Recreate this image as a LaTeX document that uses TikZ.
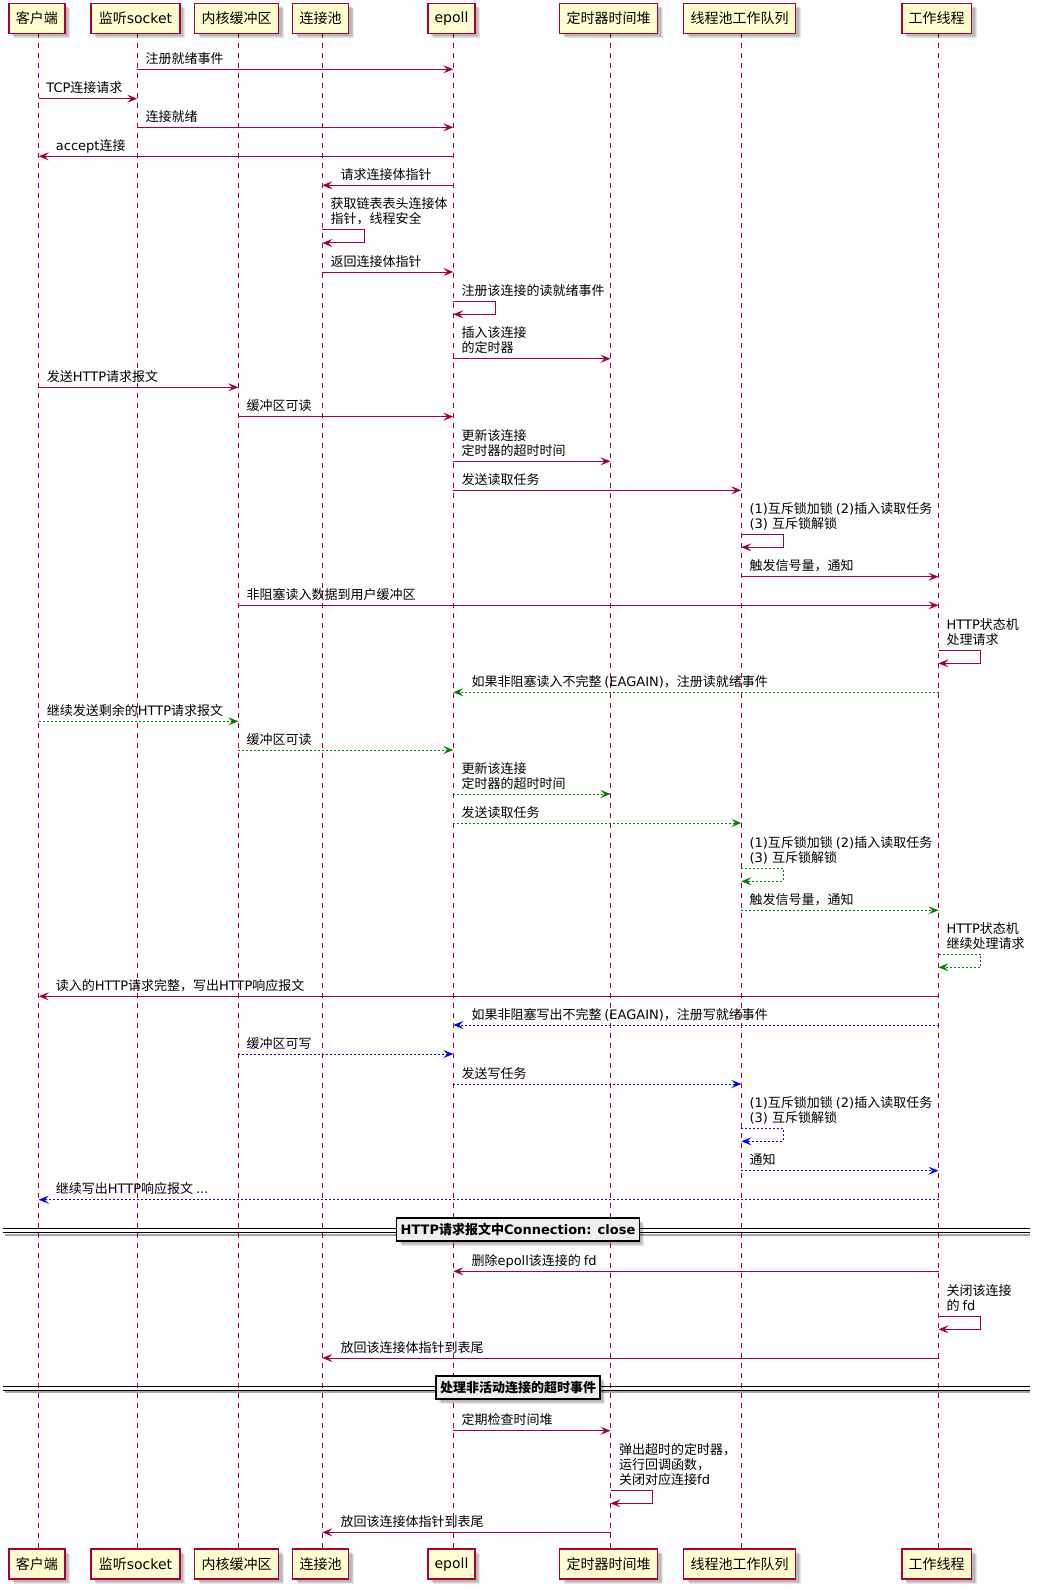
\documentclass[tikz,border=0pt]{standalone}
\usepackage{fontspec}
\setmainfont{DejaVu Sans}
\newfontfamily\cjkfont{Noto Sans CJK SC}
\usetikzlibrary{arrows.meta}

% switch automatically between the Latin and the CJK family
\XeTeXinterchartokenstate=1
\newXeTeXintercharclass\CJKclass
\makeatletter
\count@="3000
\loop \XeTeXcharclass\count@=\CJKclass \ifnum\count@<"303F \advance\count@ by 1 \repeat
\count@="4E00
\loop \XeTeXcharclass\count@=\CJKclass \ifnum\count@<"9FFF \advance\count@ by 1 \repeat
\count@="FF00
\loop \XeTeXcharclass\count@=\CJKclass \ifnum\count@<"FFEF \advance\count@ by 1 \repeat
\makeatother
\XeTeXinterchartoks 0 \CJKclass = {\cjkfont}
\XeTeXinterchartoks 4095 \CJKclass = {\cjkfont}
\XeTeXinterchartoks \CJKclass 0 = {\rmfamily}
\XeTeXinterchartoks 4095 0 = {\rmfamily}

\definecolor{umlred}{HTML}{A80036}
\definecolor{umlfill}{HTML}{FEFECE}
\definecolor{umlgreen}{HTML}{008000}
\definecolor{umlblue}{HTML}{0000FF}
\definecolor{sepfill}{HTML}{EEEEEE}

\newcommand\msgfont{\fontsize{13}{15}\selectfont}
\newcommand\partfont{\fontsize{14}{16}\selectfont}
\newcommand\twol[2]{\vbox{\baselineskip=15pt\lineskiplimit=-50pt\hbox{#1}\hbox{#2}}}
\newcommand\threel[3]{\vbox{\baselineskip=15pt\lineskiplimit=-50pt\hbox{#1}\hbox{#2}\hbox{#3}}}

\tikzset{
  softshadow/.style={
    preaction={fill=black, fill opacity=0.10, transform canvas={xshift=5pt,yshift=-5pt}},
    preaction={fill=black, fill opacity=0.10, transform canvas={xshift=4pt,yshift=-4pt}},
    preaction={fill=black, fill opacity=0.10, transform canvas={xshift=3pt,yshift=-3pt}}},
  part/.style={softshadow, draw=umlred, fill=umlfill, line width=1.5pt, inner sep=0pt,
    minimum height=30pt, font=\partfont, text=black},
  lifeline/.style={draw=umlred, line width=1pt, dash pattern=on 5pt off 5pt},
  msg/.style={draw=umlred, line width=1pt, -{Stealth[length=10pt,width=8pt,inset=4pt]}},
  gmsg/.style={msg, draw=umlgreen, dash pattern=on 2pt off 2pt},
  bmsg/.style={msg, draw=umlblue, dash pattern=on 2pt off 2pt},
  lbl/.style={anchor=base west, inner sep=0pt, font=\msgfont, text=black},
  sepline/.style={draw=black, line width=1pt},
  sepshade/.style={draw=black!35, line width=2pt},
  sepbox/.style={softshadow, draw=black, fill=sepfill, line width=1.5pt, inner xsep=4pt,
    inner ysep=0pt, minimum height=23pt, font=\bfseries\msgfont},
}

\begin{document}
\begin{tikzpicture}[x=1pt,y=-1pt]
\useasboundingbox (0,0) rectangle (1041,1589);

% double separator lines (boxes are placed on them further down)
\draw[sepshade] (5,1234.6) -- (1030,1234.6);
\draw[sepline] (3,1228.3) -- (1030,1228.3);
\draw[sepline] (3,1232.3) -- (1030,1232.3);
\draw[sepshade] (5,1392.3) -- (1030,1392.3);
\draw[sepline] (3,1386) -- (1030,1386);
\draw[sepline] (3,1390) -- (1030,1390);

% lifeline heads
\coordinate (lA) at (38.7,33.3);
\coordinate (lB) at (137.3,33.3);
\coordinate (lC) at (238.3,33.3);
\coordinate (lD) at (322.3,33.3);
\coordinate (lE) at (453.3,33.3);
\coordinate (lF) at (610.5,33.3);
\coordinate (lG) at (741.3,33.3);
\coordinate (lH) at (938.5,33.3);

\foreach \n in {A,B,C,D,E,F,G,H}
  \draw[lifeline] (l\n) -- (l\n |- 0,1549.3);

% participants, top and bottom
\foreach \n/\x/\w/\t in {A/36.9/56/客户端, B/135.5/88.6/监听socket, C/236.5/84/内核缓冲区,
    D/320.5/56/连接池, E/451.5/47.4/epoll, F/608.7/98/定时器时间堆,
    G/739.5/112/线程池工作队列, H/936.7/69.6/工作线程}{
  \node[part, minimum width=\w pt] (top\n) at (\x,18.3) {\t};
  \node[part, minimum width=\w pt] (bot\n) at (\x,1564.2) {\t};
}

% connection set-up
\draw[msg] (lB |- 0,69.3) -- (lE |- 0,69.3);
\node[lbl] (t1) at (145.3,63.3) {注册就绪事件};
\draw[msg] (lA |- 0,98.7) -- (lB |- 0,98.7);
\node[lbl] (t2) at (46.2,92.7) {TCP连接请求};
\draw[msg] (lB |- 0,127.3) -- (lE |- 0,127.3);
\node[lbl] (t3) at (145.3,121.3) {连接就绪};
\draw[msg] (lE |- 0,156.3) -- (lA |- 0,156.3);
\node[lbl] (t4) at (55.7,150.3) {accept连接};
\draw[msg] (lE |- 0,185.3) -- (lD |- 0,185.3);
\node[lbl] (t5) at (340.3,179.3) {请求连接体指针};
\draw[msg] (lD |- 0,230) -- ++(42,0) -- ++(0,13) -- (lD |- 0,243);
\node[lbl] (t6) at (330.3,224) {\twol{获取链表表头连接体}{指针，线程安全}};
\draw[msg] (lD |- 0,272) -- (lE |- 0,272);
\node[lbl] (t7) at (330.3,266) {返回连接体指针};
\draw[msg] (lE |- 0,301.3) -- ++(42,0) -- ++(0,13) -- (lE |- 0,314.3);
\node[lbl] (t8) at (461.3,295.3) {注册该连接的读就绪事件};
\draw[msg] (lE |- 0,358.7) -- (lF |- 0,358.7);
\node[lbl] (t9) at (461.3,352.7) {\twol{插入该连接}{的定时器}};

% request, first read
\draw[msg] (lA |- 0,387.3) -- (lC |- 0,387.3);
\node[lbl] (t10) at (46.7,381.3) {发送HTTP请求报文};
\draw[msg] (lC |- 0,416.7) -- (lE |- 0,416.7);
\node[lbl] (t11) at (246.3,410.7) {缓冲区可读};
\draw[msg] (lE |- 0,461.3) -- (lF |- 0,461.3);
\node[lbl] (t12) at (461.3,455.3) {\twol{更新该连接}{定时器的超时时间}};
\draw[msg] (lE |- 0,490.3) -- (lG |- 0,490.3);
\node[lbl] (t13) at (461.3,484.3) {发送读取任务};
\draw[msg] (lG |- 0,534.3) -- ++(42,0) -- ++(0,13) -- (lG |- 0,547.3);
\node[lbl] (t14) at (749.3,528.3) {\twol{(1)互斥锁加锁 (2)插入读取任务}{(3) 互斥锁解锁}};
\draw[msg] (lG |- 0,576.7) -- (lH |- 0,576.7);
\node[lbl] (t15) at (749.3,570.7) {触发信号量，通知};
\draw[msg] (lC |- 0,605.3) -- (lH |- 0,605.3);
\node[lbl] (t16) at (246.3,599.3) {非阻塞读入数据到用户缓冲区};
\draw[msg] (lH |- 0,650.3) -- ++(42,0) -- ++(0,13) -- (lH |- 0,663.3);
\node[lbl] (t17) at (946.5,644.3) {\twol{HTTP状态机}{处理请求}};

% incomplete read
\draw[gmsg] (lH |- 0,692.3) -- (lE |- 0,692.3);
\node[lbl] (t18) at (471.3,686.3) {如果非阻塞读入不完整 (EAGAIN)，注册读就绪事件};
\draw[gmsg] (lA |- 0,721.3) -- (lC |- 0,721.3);
\node[lbl] (t19) at (46.7,715.3) {继续发送剩余的HTTP请求报文};
\draw[gmsg] (lC |- 0,750) -- (lE |- 0,750);
\node[lbl] (t20) at (246.3,744) {缓冲区可读};
\draw[gmsg] (lE |- 0,794) -- (lF |- 0,794);
\node[lbl] (t21) at (461.3,788) {\twol{更新该连接}{定时器的超时时间}};
\draw[gmsg] (lE |- 0,823) -- (lG |- 0,823);
\node[lbl] (t22) at (461.3,817) {发送读取任务};
\draw[gmsg] (lG |- 0,868.3) -- ++(42,0) -- ++(0,13) -- (lG |- 0,881.3);
\node[lbl] (t23) at (749.3,862.3) {\twol{(1)互斥锁加锁 (2)插入读取任务}{(3) 互斥锁解锁}};
\draw[gmsg] (lG |- 0,910.3) -- (lH |- 0,910.3);
\node[lbl] (t24) at (749.3,904.3) {触发信号量，通知};
\draw[gmsg] (lH |- 0,954.3) -- ++(42,0) -- ++(0,13) -- (lH |- 0,967.3);
\node[lbl] (t25) at (946.5,948.3) {\twol{HTTP状态机}{继续处理请求}};

% response
\draw[msg] (lH |- 0,996.3) -- (lA |- 0,996.3);
\node[lbl] (t26) at (55.7,990.3) {读入的HTTP请求完整，写出HTTP响应报文};
\draw[bmsg] (lH |- 0,1025) -- (lE |- 0,1025);
\node[lbl] (t27) at (471.3,1019) {如果非阻塞写出不完整 (EAGAIN)，注册写就绪事件};
\draw[bmsg] (lC |- 0,1054) -- (lE |- 0,1054);
\node[lbl] (t28) at (246.3,1048) {缓冲区可写};
\draw[bmsg] (lE |- 0,1084) -- (lG |- 0,1084);
\node[lbl] (t29) at (461.3,1078) {发送写任务};
\draw[bmsg] (lG |- 0,1128.3) -- ++(42,0) -- ++(0,13) -- (lG |- 0,1141.3);
\node[lbl] (t30) at (749.3,1122.3) {\twol{(1)互斥锁加锁 (2)插入读取任务}{(3) 互斥锁解锁}};
\draw[bmsg] (lG |- 0,1170.7) -- (lH |- 0,1170.7);
\node[lbl] (t31) at (749.3,1164.7) {通知};
\draw[bmsg] (lH |- 0,1199.7) -- (lA |- 0,1199.7);
\node[lbl] (t32) at (55.7,1193.7) {继续写出HTTP响应报文 ...};

% Connection: close
\node[sepbox] (sep1) at (518,1229.7) {HTTP请求报文中Connection: close};
\draw[msg] (lH |- 0,1271.3) -- (lE |- 0,1271.3);
\node[lbl] (t33) at (471.3,1265.3) {删除epoll该连接的 fd};
\draw[msg] (lH |- 0,1316.3) -- ++(42,0) -- ++(0,13) -- (lH |- 0,1329.3);
\node[lbl] (t34) at (946.5,1310.3) {\twol{关闭该连接}{的 fd}};
\draw[msg] (lH |- 0,1358) -- (lD |- 0,1358);
\node[lbl] (t35) at (340.3,1352) {放回该连接体指针到表尾};

% inactive connection timeout
\node[sepbox] (sep2) at (518,1387.5) {处理非活动连接的超时事件};
\draw[msg] (lE |- 0,1430.7) -- (lF |- 0,1430.7);
\node[lbl] (t36) at (461.3,1424.7) {定期检查时间堆};
\draw[msg] (lF |- 0,1490.3) -- ++(42,0) -- ++(0,13) -- (lF |- 0,1503.3);
\node[lbl] (t37) at (619,1484.3) {\threel{弹出超时的定时器，}{运行回调函数，}{关闭对应连接fd}};
\draw[msg] (lF |- 0,1532.3) -- (lD |- 0,1532.3);
\node[lbl] (t38) at (340.3,1526.3) {放回该连接体指针到表尾};
\end{tikzpicture}
\end{document}
